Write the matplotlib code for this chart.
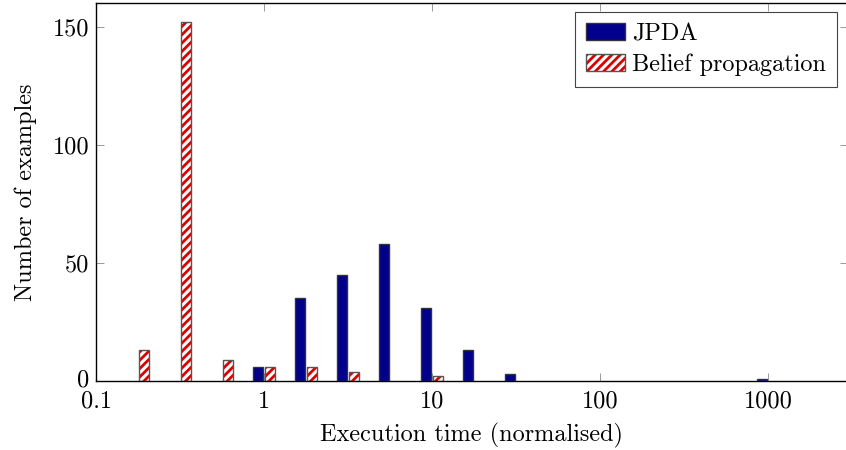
import matplotlib
matplotlib.use("Agg")
import matplotlib.pyplot as plt
import matplotlib.transforms as mtransforms
import numpy as np
from matplotlib.patches import Patch
from matplotlib.legend_handler import HandlerTuple
from matplotlib.ticker import FixedLocator, FixedFormatter, NullLocator

plt.rcParams['font.family'] = ['cmr10', 'DejaVu Serif']
plt.rcParams['axes.formatter.use_mathtext'] = True
plt.rcParams['hatch.linewidth'] = 2.0

# Data: bins are log10 exponents of normalised execution time
jpda_exp = [0.0, 0.25, 0.5, 0.75, 1.0, 1.25, 1.5, 3.0]
jpda_counts = [6, 35, 45, 58, 31, 13, 3, 1]
bp_exp = [-0.75, -0.5, -0.25, 0.0, 0.25, 0.5, 1.0]
bp_counts = [13, 152, 9, 6, 6, 4, 2]
xtick_vals = [0.1, 1, 10, 100, 1000]
xtick_labels = ["0.1", "1", "10", "100", "1000"]
ytick_vals = [0, 50, 100, 150]

navy = '#00008c'
edge = '#555555'
FS = 17.5

fig = plt.figure(figsize=(8.46, 4.5), dpi=100)
ax = fig.add_axes([96/846, 69/450, 752/846, 378/450])

bar_w = 0.062   # decades
shift = 0.0357  # decades

def draw(exps, counts, offset, hatched):
    e = np.array(exps) + offset
    left = 10 ** (e - bar_w / 2)
    right = 10 ** (e + bar_w / 2)
    if hatched:
        ax.bar(left, counts, width=right - left, align='edge', facecolor='white',
               edgecolor='#dd0000', hatch='////', linewidth=0, zorder=2)
        ax.bar(left, counts, width=right - left, align='edge', fill=False,
               edgecolor=edge, linewidth=1.0, zorder=3)
    else:
        ax.bar(left, counts, width=right - left, align='edge', facecolor=navy,
               edgecolor='#333333', linewidth=1.0, zorder=3)

draw(jpda_exp, jpda_counts, -shift, False)
draw(bp_exp, bp_counts, shift, True)

ax.set_xscale('log')
ax.set_xlim(0.1, 10 ** 3.476)
ax.set_ylim(0, 160)
ax.xaxis.set_major_locator(FixedLocator(xtick_vals))
ax.xaxis.set_major_formatter(FixedFormatter(xtick_labels))
ax.xaxis.set_minor_locator(NullLocator())
ax.set_yticks(ytick_vals)
ax.set_yticklabels([str(v) for v in ytick_vals])
ax.tick_params(direction='in', top=True, right=True, length=6, width=0.6,
               color='#888888', labelsize=FS)
ax.tick_params(axis='x', pad=7)
ax.tick_params(axis='y', pad=5)
for s in ax.spines.values():
    s.set_linewidth(1.0)

# nudge the "0" y tick label up slightly so it clears the "0.1" x label
t0 = ax.yaxis.get_major_ticks()[0].label1
t0.set_transform(t0.get_transform() +
                 mtransforms.ScaledTranslation(0, 2.5 / 72, fig.dpi_scale_trans))

ax.set_xlabel("Execution time (normalised)", fontsize=FS, labelpad=7)
ax.set_ylabel("Number of examples", fontsize=FS, labelpad=11)

h1 = Patch(facecolor=navy, edgecolor='#333333', linewidth=1.0)
h2a = Patch(facecolor='white', edgecolor='#dd0000', hatch='////', linewidth=0)
h2b = Patch(fill=False, edgecolor=edge, linewidth=1.0)
leg = ax.legend([h1, (h2a, h2b)], ["JPDA", "Belief propagation"],
                handler_map={tuple: HandlerTuple(ndivide=1)},
                loc='upper right', bbox_to_anchor=(837/846, 438/450),
                bbox_transform=fig.transFigure, borderaxespad=0,
                fontsize=FS, frameon=True, fancybox=False,
                edgecolor='#444444', framealpha=1,
                handlelength=1.6, handleheight=0.7, handletextpad=0.3,
                labelspacing=0.35, borderpad=0.45)
leg.get_frame().set_linewidth(0.8)

fig.savefig("out.png", dpi=100)
